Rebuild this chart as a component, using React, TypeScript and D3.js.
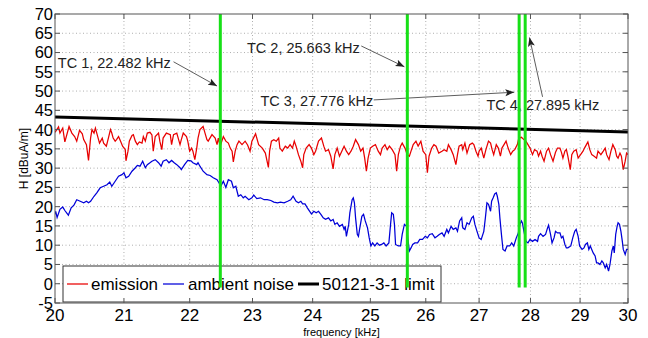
import React from 'react';
import * as d3 from 'd3';

// ---- data ----
const emission: [number, number][] = [
  [20.00,39.3],[20.05,40.7],[20.07,39.1],[20.11,40.4],[20.14,36.8],[20.20,40.8],[20.24,39.1],[20.28,38.2],[20.31,37.0],[20.35,39.8],[20.39,38.9],[20.41,37.4],[20.45,36.1],[20.48,32.0],[20.51,37.8],[20.53,40.0],[20.56,39.1],[20.58,40.4],[20.60,39.1],[20.64,36.5],[20.68,37.8],[20.70,36.5],[20.74,35.7],[20.77,37.8],[20.80,40.0],[20.82,39.1],[20.84,37.8],[20.87,37.0],[20.89,37.4],[20.92,38.2],[20.95,37.0],[20.98,35.7],[21.02,34.8],[21.03,31.9],[21.06,34.4],[21.08,37.0],[21.12,38.5],[21.14,38.7],[21.17,37.0],[21.20,36.1],[21.23,36.8],[21.27,36.5],[21.29,38.2],[21.32,37.0],[21.35,39.1],[21.39,39.3],[21.42,38.6],[21.44,34.4],[21.47,38.2],[21.52,39.1],[21.54,37.0],[21.57,34.8],[21.59,37.8],[21.64,39.1],[21.70,38.7],[21.72,36.1],[21.75,38.7],[21.80,39.1],[21.85,36.1],[21.87,37.4],[21.90,39.1],[21.95,38.2],[21.97,37.0],[22.00,34.4],[22.03,35.2],[22.05,34.4],[22.08,32.2],[22.11,35.2],[22.13,37.8],[22.16,40.0],[22.21,40.8],[22.24,39.1],[22.27,37.4],[22.29,37.0],[22.35,38.7],[22.40,37.8],[22.43,36.1],[22.45,37.8],[22.48,35.7],[22.53,38.2],[22.57,37.0],[22.61,36.5],[22.64,35.2],[22.67,34.4],[22.69,31.6],[22.72,34.4],[22.75,36.1],[22.78,37.0],[22.83,36.1],[22.88,37.0],[22.92,36.0],[22.96,34.4],[22.99,37.0],[23.05,38.9],[23.10,36.1],[23.16,35.2],[23.21,33.9],[23.26,30.2],[23.28,34.4],[23.31,37.0],[23.35,37.4],[23.39,37.0],[23.43,37.8],[23.45,35.2],[23.49,34.4],[23.54,35.7],[23.58,35.2],[23.62,36.1],[23.66,35.2],[23.69,37.0],[23.72,35.7],[23.76,33.5],[23.80,31.8],[23.83,30.1],[23.85,33.5],[23.89,35.2],[23.94,36.1],[23.98,35.2],[24.02,33.5],[24.05,34.4],[24.10,37.0],[24.15,37.8],[24.19,35.7],[24.22,34.4],[24.27,34.8],[24.31,33.1],[24.35,29.8],[24.38,33.5],[24.42,35.2],[24.46,33.1],[24.50,34.4],[24.54,35.7],[24.58,34.4],[24.62,33.5],[24.66,34.4],[24.70,35.7],[24.74,37.4],[24.79,36.1],[24.83,34.4],[24.87,35.2],[24.90,32.6],[24.93,29.2],[24.96,32.6],[25.00,35.2],[25.04,35.7],[25.09,36.1],[25.14,34.4],[25.18,33.5],[25.21,35.2],[25.26,36.1],[25.30,34.8],[25.34,35.7],[25.39,34.8],[25.44,33.5],[25.47,29.2],[25.50,33.5],[25.54,35.7],[25.57,36.5],[25.62,35.2],[25.66,33.5],[25.70,33.1],[25.73,34.4],[25.77,36.1],[25.82,37.0],[25.86,35.7],[25.91,37.0],[25.95,34.4],[26.00,33.5],[26.03,28.8],[26.06,33.1],[26.11,35.2],[26.15,36.1],[26.19,35.7],[26.24,33.9],[26.30,34.4],[26.34,34.8],[26.39,34.4],[26.42,36.1],[26.47,34.8],[26.51,33.5],[26.56,30.9],[26.59,33.5],[26.62,35.7],[26.67,36.1],[26.69,34.8],[26.73,36.5],[26.77,33.9],[26.82,36.1],[26.87,36.5],[26.90,36.1],[26.94,34.4],[26.98,33.1],[27.00,34.4],[27.04,35.2],[27.09,32.6],[27.13,34.8],[27.18,37.0],[27.22,36.5],[27.25,34.8],[27.28,33.5],[27.33,36.1],[27.37,35.2],[27.41,33.1],[27.44,35.2],[27.48,36.1],[27.52,37.0],[27.56,35.2],[27.61,33.5],[27.65,34.4],[27.69,34.8],[27.74,36.1],[27.77,37.8],[27.82,38.0],[27.87,37.4],[27.91,37.0],[27.95,36.1],[27.99,35.2],[28.04,33.5],[28.08,34.8],[28.13,34.4],[28.16,33.1],[28.20,34.4],[28.23,33.1],[28.27,31.8],[28.32,34.4],[28.36,35.2],[28.40,33.5],[28.45,31.8],[28.50,34.1],[28.54,35.2],[28.59,35.2],[28.62,34.1],[28.65,32.6],[28.69,34.4],[28.72,34.8],[28.75,33.1],[28.80,29.6],[28.83,33.5],[28.87,34.4],[28.92,34.8],[28.96,32.6],[29.01,33.5],[29.06,34.4],[29.09,35.2],[29.13,36.1],[29.16,36.8],[29.20,34.8],[29.24,33.5],[29.29,33.1],[29.34,32.6],[29.37,34.4],[29.43,33.5],[29.48,34.4],[29.52,35.2],[29.55,33.5],[29.60,32.2],[29.64,34.4],[29.68,36.1],[29.73,34.8],[29.76,33.1],[29.79,32.6],[29.83,33.9],[29.86,33.1],[29.90,29.6],[29.94,31.8],[29.97,33.9],[30.00,33.5]
];

const ambientNoise: [number, number][] = [
  [20.00,18.0],[20.01,18.8],[20.03,17.2],[20.07,19.3],[20.11,19.9],[20.14,19.0],[20.19,17.8],[20.23,19.7],[20.27,20.4],[20.31,21.8],[20.36,21.4],[20.41,21.0],[20.45,21.4],[20.48,21.0],[20.51,21.4],[20.56,22.7],[20.60,23.6],[20.65,24.9],[20.70,25.3],[20.75,25.7],[20.79,26.4],[20.82,25.3],[20.87,26.6],[20.92,27.9],[20.97,28.3],[21.00,28.8],[21.03,27.5],[21.07,27.9],[21.12,29.2],[21.17,30.1],[21.20,30.7],[21.24,30.5],[21.28,31.8],[21.32,30.1],[21.35,30.9],[21.39,31.4],[21.42,31.8],[21.47,32.2],[21.52,31.4],[21.56,30.5],[21.59,31.8],[21.64,32.2],[21.68,31.4],[21.72,32.0],[21.76,31.4],[21.80,30.9],[21.85,30.1],[21.87,29.6],[21.92,30.9],[21.97,32.0],[22.02,31.9],[22.05,31.4],[22.11,30.9],[22.13,31.4],[22.16,30.5],[22.21,29.2],[22.27,28.3],[22.32,28.1],[22.37,27.5],[22.43,27.0],[22.46,26.2],[22.49,25.3],[22.53,26.6],[22.57,25.0],[22.61,27.0],[22.66,26.6],[22.69,24.9],[22.73,25.3],[22.77,22.7],[22.81,23.1],[22.85,22.3],[22.88,22.7],[22.94,21.8],[22.99,22.3],[23.02,23.0],[23.07,22.1],[23.13,22.3],[23.19,21.8],[23.24,21.8],[23.30,21.6],[23.35,21.2],[23.41,21.0],[23.46,21.2],[23.52,21.0],[23.58,21.4],[23.63,21.8],[23.67,22.7],[23.72,21.4],[23.76,21.0],[23.80,21.4],[23.83,20.7],[23.87,20.7],[23.91,19.7],[23.95,18.8],[23.98,18.1],[24.02,18.8],[24.06,18.4],[24.10,18.8],[24.14,18.0],[24.18,17.1],[24.22,16.7],[24.27,17.1],[24.31,16.3],[24.35,16.7],[24.38,15.4],[24.42,15.8],[24.46,14.9],[24.51,15.4],[24.54,14.1],[24.56,14.9],[24.58,12.3],[24.62,15.4],[24.64,18.4],[24.68,21.8],[24.70,22.3],[24.72,21.0],[24.74,17.1],[24.77,12.8],[24.79,12.3],[24.81,14.1],[24.85,17.5],[24.88,18.0],[24.91,16.3],[24.95,14.5],[24.98,11.9],[25.01,9.8],[25.04,10.6],[25.08,9.8],[25.12,10.6],[25.16,10.0],[25.20,10.2],[25.24,10.6],[25.28,9.8],[25.33,10.6],[25.36,15.4],[25.38,18.4],[25.41,18.0],[25.43,15.4],[25.45,10.2],[25.50,9.8],[25.54,9.8],[25.57,12.8],[25.61,15.4],[25.65,14.9],[25.67,11.9],[25.70,8.5],[25.73,9.3],[25.76,10.2],[25.80,10.6],[25.85,10.6],[25.89,11.5],[25.94,11.5],[25.99,12.3],[26.03,11.9],[26.07,12.8],[26.12,13.0],[26.17,11.9],[26.21,12.3],[26.25,12.8],[26.30,13.2],[26.34,12.3],[26.39,14.1],[26.42,13.2],[26.47,14.9],[26.51,14.1],[26.56,14.5],[26.59,13.6],[26.63,16.3],[26.67,17.1],[26.69,14.5],[26.73,14.1],[26.77,15.8],[26.81,15.4],[26.86,17.1],[26.89,17.5],[26.92,15.4],[26.96,13.6],[27.00,11.9],[27.04,11.5],[27.09,13.6],[27.12,17.1],[27.15,21.0],[27.18,20.6],[27.22,18.8],[27.24,21.4],[27.27,22.3],[27.30,23.3],[27.33,23.6],[27.35,22.7],[27.38,20.6],[27.40,17.1],[27.43,12.8],[27.46,8.9],[27.50,8.5],[27.54,9.8],[27.59,9.8],[27.63,10.6],[27.67,9.8],[27.72,11.9],[27.76,13.2],[27.79,15.4],[27.82,16.3],[27.84,15.8],[27.87,13.6],[27.91,11.0],[27.95,10.6],[27.99,11.5],[28.04,11.0],[28.09,11.5],[28.14,11.0],[28.16,12.3],[28.20,13.0],[28.25,12.3],[28.30,12.8],[28.34,14.5],[28.36,15.2],[28.40,12.8],[28.43,10.6],[28.47,11.9],[28.50,13.6],[28.54,13.2],[28.59,13.2],[28.62,11.9],[28.65,12.3],[28.69,10.2],[28.72,9.3],[28.75,9.3],[28.81,9.8],[28.85,11.9],[28.89,13.6],[28.92,14.1],[28.96,12.3],[28.99,9.8],[29.04,8.9],[29.08,9.3],[29.11,10.2],[29.15,10.6],[29.18,8.9],[29.21,9.8],[29.24,8.9],[29.27,8.0],[29.31,7.2],[29.34,5.4],[29.37,5.4],[29.41,5.0],[29.45,5.9],[29.48,5.4],[29.52,4.1],[29.55,5.0],[29.59,3.3],[29.62,5.0],[29.66,8.5],[29.69,9.8],[29.71,8.0],[29.74,12.8],[29.77,14.9],[29.79,15.8],[29.82,15.4],[29.85,13.6],[29.88,11.0],[29.90,8.9],[29.94,7.6],[29.97,8.9],[30.00,8.9]
];

const limitLine: [number, number][] = [[20, 43.3], [30, 39.4]];

const tcFreqs = [22.482, 25.663, 27.776, 27.895];
const tcLabels = ['TC 1, 22.482 kHz', 'TC 2, 25.663 kHz', 'TC 3, 27.776 kHz', 'TC 4, 27.895 kHz'];
// annotation text anchor [freq, dB], arrow start [freq, dB], arrow tip [freq, dB]
const tcTextPos: [number, number][] = [[20.04, 56.0], [22.91, 60.0], [23.13, 46.1], [27.14, 45.2]];
const tcArrowFrom: [number, number][] = [[21.75, 57.6], [24.84, 61.7], [25.06, 47.7], [28.24, 48.5]];
const tcArrowTo: [number, number][] = [[22.43, 51.3], [25.61, 56.3], [27.68, 49.7], [27.98, 63.9]];

const xTicks = [20, 21, 22, 23, 24, 25, 26, 27, 28, 29, 30];
const yTicks = [-5, 0, 5, 10, 15, 20, 25, 30, 35, 40, 45, 50, 55, 60, 65, 70];
const seriesNames = ['emission', 'ambient noise', '50121-3-1 limit'];
const seriesColors = ['#e80000', '#0000d8', '#000000'];

const W = 648, H = 338;
const L = 55, R = 628, T = 14, B = 303;
const FONT = '"Liberation Sans", Arial, Helvetica, sans-serif';

export default function App() {
  const x = d3.scaleLog().domain([20, 30]).range([L, R]);
  const y = d3.scaleLinear().domain([-5, 70]).range([B, T]);
  const line = d3.line<[number, number]>().x(d => x(d[0])).y(d => y(d[1]));

  const legendItems = [
    { lx: 67, tx: 91 },
    { lx: 163, tx: 188 },
    { lx: 298, tx: 322 },
  ];

  return (
    <svg width={W} height={H} style={{ position: 'absolute', left: 0, top: 0, background: '#fff' }} fontFamily={FONT}>
      <defs>
        <clipPath id="plotclip"><rect x={L} y={T} width={R - L} height={B - T} /></clipPath>
        <marker id="arrowhead" markerUnits="userSpaceOnUse" markerWidth="10" markerHeight="8" refX="9" refY="3.5" orient="auto">
          <path d="M0,0 L9,3.5 L0,7 L2,3.5 z" fill="#222" />
        </marker>
      </defs>
      <rect x={0} y={0} width={W} height={H} fill="#fff" />
      {/* grid */}
      <g stroke="#9a9a9a" strokeWidth={0.8} strokeDasharray="1,2.5">
        {xTicks.slice(1, -1).map(t => (
          <line key={'gx' + t} x1={x(t)} x2={x(t)} y1={T} y2={B} />
        ))}
        {yTicks.slice(1, -1).map(t => (
          <line key={'gy' + t} x1={L} x2={R} y1={y(t)} y2={y(t)} />
        ))}
      </g>
      {/* data */}
      <g clipPath="url(#plotclip)" fill="none">
        <path d={line(emission) || ''} stroke={seriesColors[0]} strokeWidth={1.25} />
        <path d={line(ambientNoise) || ''} stroke={seriesColors[1]} strokeWidth={1.25} />
        <path d={line(limitLine) || ''} stroke={seriesColors[2]} strokeWidth={3} />
      </g>
      {/* annotations */}
      <g fontSize={14.5} fill="#222">
        {tcLabels.map((lab, i) => (
          <text key={lab} x={x(tcTextPos[i][0])} y={y(tcTextPos[i][1])}>{lab}</text>
        ))}
      </g>
      <g stroke="#333" strokeWidth={0.8}>
        {tcLabels.map((lab, i) => (
          <line key={'a' + lab}
            x1={x(tcArrowFrom[i][0])} y1={y(tcArrowFrom[i][1])}
            x2={x(tcArrowTo[i][0])} y2={y(tcArrowTo[i][1])}
            markerEnd="url(#arrowhead)" />
        ))}
      </g>
      {/* legend */}
      <g>
        <rect x={63} y={266} width={378} height={36} fill="#fff" stroke="#333" strokeWidth={1} />
        {seriesNames.map((n, i) => (
          <g key={n}>
            <line x1={legendItems[i].lx} x2={legendItems[i].lx + 21} y1={284} y2={284}
              stroke={seriesColors[i]} strokeWidth={i === 2 ? 3 : 1.25} />
            <text x={legendItems[i].tx} y={290} fontSize={17} fill="#000">{n}</text>
          </g>
        ))}
      </g>
      {/* TC lines */}
      <g stroke="#17e017" strokeWidth={3}>
        {tcFreqs.map(f => (
          <line key={'tc' + f} x1={x(f)} x2={x(f)} y1={y(70)} y2={y(-1)} />
        ))}
      </g>
      {/* axes box */}
      <g stroke="#555" strokeWidth={1} fill="none">
        <rect x={L} y={T} width={R - L} height={B - T} />
        {xTicks.map(t => (
          <g key={'tx' + t}>
            <line x1={x(t)} x2={x(t)} y1={B} y2={B - 5} />
            <line x1={x(t)} x2={x(t)} y1={T} y2={T + 5} />
          </g>
        ))}
        {yTicks.map(t => (
          <g key={'ty' + t}>
            <line x1={L} x2={L + 5} y1={y(t)} y2={y(t)} />
            <line x1={R} x2={R - 5} y1={y(t)} y2={y(t)} />
          </g>
        ))}
      </g>
      {/* tick labels */}
      <g fontSize={17} fill="#000">
        {xTicks.map(t => (
          <text key={'lx' + t} x={x(t)} y={321} textAnchor="middle">{t}</text>
        ))}
      </g>
      <g fontSize={16.5} fill="#000">
        {yTicks.map(t => (
          <text key={'ly' + t} x={L - 2} y={y(t)} dy="0.36em" textAnchor="end">{t}</text>
        ))}
      </g>
      <text x={(L + R) / 2} y={335.5} fontSize={11} textAnchor="middle" fill="#000">frequency [kHz]</text>
      <text transform={`translate(28,${(T + B) / 2}) rotate(-90)`} fontSize={12} textAnchor="middle" fill="#000">H [dBuA/m]</text>
    </svg>
  );
}
